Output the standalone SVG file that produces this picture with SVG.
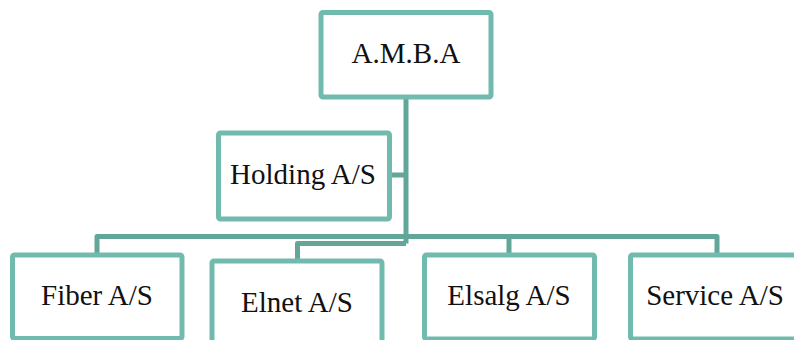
<svg xmlns="http://www.w3.org/2000/svg" width="794" height="340" viewBox="0 0 794 340">
<style>
.box{fill:#fff;stroke:#70bbad;stroke-width:5}
.lbl{font-family:"Liberation Serif","Times New Roman",serif;font-size:29px;fill:#111;text-anchor:middle}
.con{fill:none;stroke:#62a699;stroke-width:5;stroke-linejoin:round}
</style>
<rect width="794" height="340" fill="#fff"/>
<g id="connectors">
<path class="con" d="M406 97 V243.5"/>
<path class="con" d="M392 175 H406"/>
<path class="con" d="M97 253 V236.5 H717 V253"/>
<path class="con" d="M509 236.5 V253"/>
<path class="con" d="M297.5 259 V243.5 H406"/>
</g>
<g id="amba"><rect class="box" x="321" y="12.5" width="170" height="84.5" rx="2"/><text class="lbl" x="406" y="63">A.M.B.A</text></g>
<g id="holding"><rect class="box" x="218.5" y="133" width="171" height="86" rx="2"/><text class="lbl" x="303" y="184">Holding A/S</text></g>
<g id="fiber"><rect class="box" x="12.5" y="255" width="169.5" height="83.5" rx="2"/><text class="lbl" x="97" y="305">Fiber A/S</text></g>
<g id="elnet"><rect class="box" x="212" y="261" width="170" height="90" rx="2"/><text class="lbl" x="297" y="312">Elnet A/S</text></g>
<g id="elsalg"><rect class="box" x="424.5" y="255" width="170" height="84" rx="2"/><text class="lbl" x="509" y="305">Elsalg A/S</text></g>
<g id="service"><rect class="box" x="630.5" y="255" width="170" height="84" rx="2"/><text class="lbl" x="715" y="305">Service A/S</text></g>
</svg>
